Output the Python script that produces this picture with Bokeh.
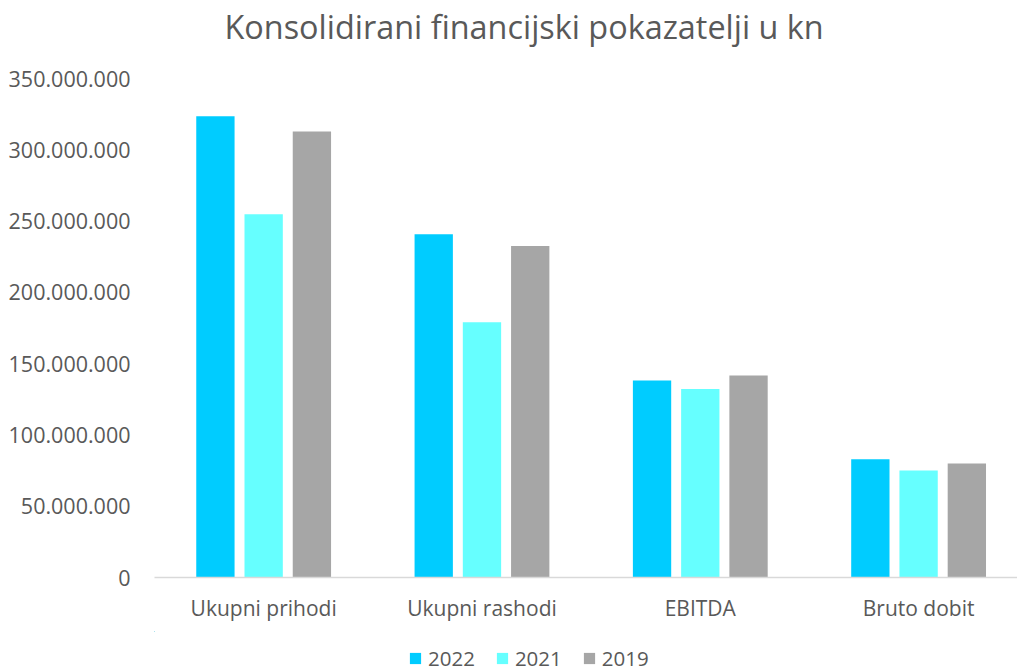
from bokeh.plotting import figure
from bokeh.layouts import column
from bokeh.models import Range1d, FixedTicker, Legend, LegendItem, Title, ColumnDataSource
from bokeh.embed import file_html
from bokeh.resources import INLINE

categories = ["Ukupni prihodi", "Ukupni rashodi", "EBITDA", "Bruto dobit"]
years = ["2022", "2021", "2019"]
v2022 = [323_600_000, 240_700_000, 138_100_000, 82_900_000]
v2021 = [254_700_000, 179_000_000, 132_200_000, 75_000_000]
v2019 = [312_800_000, 232_500_000, 141_600_000, 79_900_000]
y_ticks = [0, 50_000_000, 100_000_000, 150_000_000, 200_000_000, 250_000_000, 300_000_000, 350_000_000]
colors = ["#00CCFF", "#66FFFF", "#A6A6A6"]

FONT = "Open Sans"
TXT = "#595959"
LEG_H = 40

p = figure(width=1017, height=671 - LEG_H, output_backend="svg", toolbar_location=None,
           x_range=Range1d(0, 3.953), y_range=Range1d(0, 350_000_000),
           min_border_left=154, min_border_right=0, min_border_top=78, min_border_bottom=54,
           outline_line_color=None, background_fill_color="white", border_fill_color="white")

# invisible spacer next to the frame, then the real title above it
p.add_layout(Title(text=" ", text_font=FONT, text_font_size="10px", standoff=15,
                   vertical_align="bottom"), "above")
p.add_layout(Title(text="Konsolidirani financijski pokazatelji u kn", text_font=FONT,
                   text_font_size="32.4px", text_font_style="normal", text_color=TXT,
                   align="left", offset=70, standoff=0, vertical_align="bottom"), "above")

xc = [i + 0.5 for i in range(len(categories))]
offsets = [-0.221, 0.0, 0.221]
sources = []
for yr, vals, off, col in zip(years, [v2022, v2021, v2019], offsets, colors):
    src = ColumnDataSource(dict(x=[c + off for c in xc], top=vals))
    sources.append(src)
    p.vbar(x="x", top="top", width=0.1755, bottom=0, source=src,
           fill_color=col, line_color=None)

p.xgrid.visible = False
p.ygrid.visible = False

xa = p.xaxis[0]
xa.ticker = FixedTicker(ticks=xc)
xa.major_label_overrides = {c: lab for c, lab in zip(xc, categories)}
xa.axis_line_color = "#D9D9D9"
xa.axis_line_width = 1.5
xa.major_tick_line_color = None
xa.major_tick_out = 0
xa.major_tick_in = 0
xa.minor_tick_line_color = None
xa.major_label_standoff = 16
xa.major_label_text_font = FONT
xa.major_label_text_font_size = "21px"
xa.major_label_text_color = TXT

ya = p.yaxis[0]
ya.ticker = FixedTicker(ticks=y_ticks)
ya.major_label_overrides = {t: f"{t:,}".replace(",", ".") for t in y_ticks}
ya.axis_line_color = None
ya.major_tick_line_color = None
ya.major_tick_out = 0
ya.major_tick_in = 0
ya.minor_tick_line_color = None
ya.major_label_standoff = 24
ya.major_label_text_font = FONT
ya.major_label_text_font_size = "21.5px"
ya.major_label_text_color = TXT

# legend strip below the chart (its bars lie far outside its visible ranges)
lg = figure(width=1017, height=LEG_H, output_backend="svg", toolbar_location=None,
            x_range=Range1d(1000, 1003.953), y_range=Range1d(-2e9, -1e9),
            x_axis_type=None, y_axis_type=None,
            min_border_left=154, min_border_right=0, min_border_top=0, min_border_bottom=0,
            outline_line_color=None, background_fill_color="white", border_fill_color="white")
lg.xgrid.visible = False
lg.ygrid.visible = False
items = []
for yr, src, col in zip(years, sources, colors):
    r = lg.vbar(x="x", top="top", width=0.1755, bottom=0, source=src,
                fill_color=col, line_color=None)
    items.append(LegendItem(label=yr, renderers=[r]))
legend = Legend(items=items, orientation="horizontal", location=(408 - 154, -1),
                label_text_font=FONT, label_text_font_size="20.5px", label_text_color=TXT,
                glyph_width=14, glyph_height=14, label_standoff=6, spacing=20,
                border_line_color=None, background_fill_alpha=0, padding=0, margin=0)
lg.add_layout(legend, "center")

layout = column(p, lg, spacing=0)
open("out.html", "w").write(file_html(layout, INLINE))
